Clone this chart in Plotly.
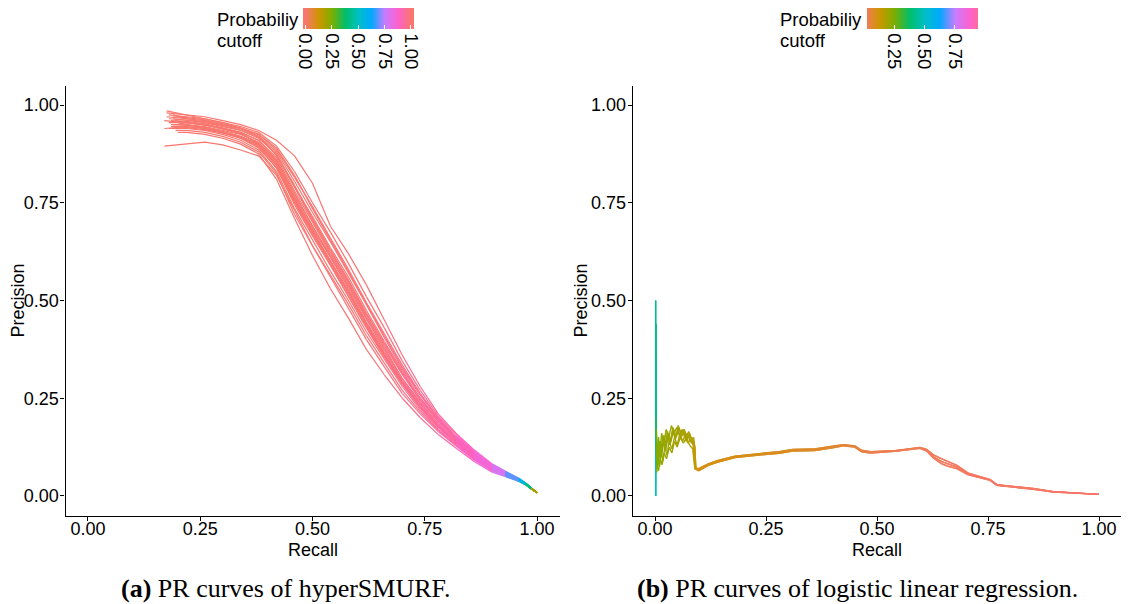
import plotly.graph_objects as go

# ------------------------------------------------------------------ data
# (a) hyperSMURF PR curves: shared recall grid, per-curve start point and precisions
smurf_recall_grid = [0.22, 0.26, 0.30, 0.34, 0.38, 0.42, 0.46, 0.50, 0.54, 0.58, 0.62, 0.66,
                     0.70, 0.74, 0.78, 0.82, 0.86, 0.90, 0.93, 0.96, 0.975, 0.988, 1.0]
smurf_cutoff = [1.0, 1.0, 1.0, 1.0, 1.0, 1.0, 0.999, 0.998, 0.996, 0.994, 0.991, 0.987,
                0.981, 0.97, 0.955, 0.935, 0.91, 0.88, 0.82, 0.75, 0.62, 0.49, 0.32, 0.06]
smurf_start_recall = [0.19, 0.18, 0.20, 0.17, 0.185, 0.175, 0.17, 0.19, 0.20, 0.18, 0.175,
                      0.195, 0.185, 0.19, 0.18, 0.175, 0.18, 0.20, 0.19, 0.185, 0.195, 0.17]
smurf_start_precision = [0.95, 0.975, 0.93, 0.96, 0.945, 0.98, 0.895, 0.965, 0.955, 0.94, 0.97,
                         0.935, 0.96, 0.975, 0.955, 0.985, 0.965, 0.945, 0.97, 0.95, 0.96, 0.94]
smurf_p01 = [0.95, 0.945, 0.935, 0.925, 0.905, 0.855, 0.765, 0.685, 0.61, 0.53, 0.445, 0.37, 0.295, 0.235, 0.18, 0.14, 0.10, 0.07, 0.055, 0.04, 0.03, 0.018, 0.008]
smurf_p02 = [0.97, 0.965, 0.955, 0.945, 0.93, 0.895, 0.83, 0.75, 0.675, 0.595, 0.51, 0.43, 0.345, 0.27, 0.205, 0.158, 0.115, 0.08, 0.062, 0.044, 0.032, 0.02, 0.009]
smurf_p03 = [0.93, 0.925, 0.915, 0.9, 0.875, 0.81, 0.71, 0.615, 0.53, 0.455, 0.375, 0.31, 0.25, 0.2, 0.157, 0.122, 0.088, 0.061, 0.049, 0.037, 0.028, 0.017, 0.008]
smurf_p04 = [0.955, 0.95, 0.94, 0.93, 0.91, 0.865, 0.78, 0.70, 0.62, 0.545, 0.46, 0.385, 0.31, 0.245, 0.19, 0.145, 0.105, 0.074, 0.057, 0.041, 0.031, 0.019, 0.008]
smurf_p05 = [0.945, 0.94, 0.93, 0.915, 0.89, 0.84, 0.745, 0.665, 0.59, 0.51, 0.43, 0.355, 0.285, 0.225, 0.175, 0.135, 0.097, 0.068, 0.053, 0.039, 0.03, 0.018, 0.008]
smurf_p06 = [0.975, 0.97, 0.96, 0.95, 0.935, 0.91, 0.87, 0.80, 0.69, 0.62, 0.54, 0.45, 0.36, 0.28, 0.21, 0.16, 0.118, 0.082, 0.063, 0.045, 0.033, 0.02, 0.009]
smurf_p07 = [0.9, 0.905, 0.898, 0.885, 0.87, 0.82, 0.73, 0.64, 0.565, 0.49, 0.41, 0.34, 0.27, 0.215, 0.168, 0.13, 0.093, 0.065, 0.051, 0.038, 0.029, 0.017, 0.008]
smurf_p08 = [0.96, 0.955, 0.945, 0.935, 0.915, 0.875, 0.79, 0.715, 0.635, 0.56, 0.475, 0.395, 0.32, 0.25, 0.195, 0.148, 0.108, 0.076, 0.058, 0.042, 0.031, 0.019, 0.008]
smurf_p09 = [0.95, 0.94, 0.93, 0.92, 0.9, 0.85, 0.755, 0.675, 0.60, 0.52, 0.44, 0.365, 0.29, 0.23, 0.178, 0.138, 0.099, 0.069, 0.054, 0.04, 0.03, 0.018, 0.008]
smurf_p10 = [0.94, 0.935, 0.925, 0.91, 0.885, 0.83, 0.735, 0.655, 0.575, 0.50, 0.42, 0.35, 0.28, 0.22, 0.17, 0.132, 0.095, 0.066, 0.052, 0.038, 0.029, 0.018, 0.008]
smurf_p11 = [0.965, 0.96, 0.95, 0.94, 0.92, 0.88, 0.805, 0.725, 0.65, 0.57, 0.49, 0.405, 0.325, 0.258, 0.198, 0.15, 0.11, 0.077, 0.059, 0.043, 0.032, 0.019, 0.009]
smurf_p12 = [0.935, 0.93, 0.92, 0.905, 0.88, 0.825, 0.72, 0.64, 0.56, 0.48, 0.40, 0.33, 0.262, 0.21, 0.165, 0.128, 0.092, 0.064, 0.051, 0.038, 0.029, 0.017, 0.008]
smurf_p13 = [0.958, 0.952, 0.942, 0.93, 0.91, 0.86, 0.775, 0.69, 0.615, 0.54, 0.455, 0.38, 0.30, 0.24, 0.185, 0.143, 0.103, 0.072, 0.056, 0.041, 0.031, 0.019, 0.008]
smurf_p14 = [0.965, 0.955, 0.948, 0.94, 0.925, 0.885, 0.815, 0.74, 0.66, 0.58, 0.495, 0.415, 0.335, 0.262, 0.2, 0.153, 0.112, 0.078, 0.06, 0.043, 0.032, 0.019, 0.009]
smurf_p15 = [0.955, 0.948, 0.94, 0.928, 0.9, 0.845, 0.76, 0.68, 0.60, 0.525, 0.44, 0.36, 0.29, 0.228, 0.176, 0.137, 0.098, 0.069, 0.054, 0.04, 0.03, 0.018, 0.008]
smurf_p16 = [0.975, 0.965, 0.955, 0.94, 0.92, 0.87, 0.79, 0.705, 0.625, 0.55, 0.465, 0.39, 0.315, 0.25, 0.192, 0.147, 0.107, 0.075, 0.058, 0.042, 0.031, 0.019, 0.008]
smurf_p17 = [0.962, 0.958, 0.948, 0.936, 0.918, 0.872, 0.795, 0.71, 0.63, 0.552, 0.468, 0.39, 0.312, 0.246, 0.19, 0.146, 0.106, 0.074, 0.057, 0.041, 0.031, 0.019, 0.008]
smurf_p18 = [0.942, 0.937, 0.928, 0.915, 0.893, 0.838, 0.75, 0.668, 0.59, 0.512, 0.432, 0.358, 0.287, 0.227, 0.176, 0.136, 0.097, 0.068, 0.053, 0.039, 0.03, 0.018, 0.008]
smurf_p19 = [0.968, 0.962, 0.952, 0.942, 0.925, 0.89, 0.82, 0.735, 0.655, 0.575, 0.49, 0.41, 0.33, 0.26, 0.2, 0.152, 0.111, 0.078, 0.06, 0.043, 0.032, 0.019, 0.009]
smurf_p20 = [0.948, 0.943, 0.933, 0.92, 0.898, 0.85, 0.76, 0.678, 0.602, 0.522, 0.44, 0.362, 0.292, 0.23, 0.178, 0.138, 0.099, 0.069, 0.054, 0.04, 0.03, 0.018, 0.008]
smurf_p21 = [0.955, 0.95, 0.938, 0.927, 0.902, 0.858, 0.77, 0.69, 0.612, 0.535, 0.452, 0.375, 0.3, 0.238, 0.183, 0.141, 0.101, 0.071, 0.055, 0.04, 0.03, 0.018, 0.008]
smurf_p22 = [0.945, 0.94, 0.93, 0.918, 0.895, 0.845, 0.752, 0.672, 0.595, 0.518, 0.436, 0.36, 0.288, 0.228, 0.177, 0.137, 0.098, 0.068, 0.053, 0.039, 0.03, 0.018, 0.008]
smurf_precisions = [smurf_p01, smurf_p02, smurf_p03, smurf_p04, smurf_p05, smurf_p06, smurf_p07, smurf_p08,
                    smurf_p09, smurf_p10, smurf_p11, smurf_p12, smurf_p13, smurf_p14, smurf_p15, smurf_p16,
                    smurf_p17, smurf_p18, smurf_p19, smurf_p20, smurf_p21, smurf_p22]

# (b) logistic regression PR curves: jagged heads (low recall) + shared tail recall grid
lr_head_recall_a = [0.0015, 0.0015, 0.002, 0.003, 0.004, 0.006, 0.009, 0.012, 0.016, 0.02, 0.025, 0.03, 0.036, 0.042, 0.048, 0.054, 0.06, 0.066, 0.072, 0.078, 0.084, 0.089, 0.091]
lr_head_prec_a = [0.0, 0.50, 0.20, 0.12, 0.09, 0.13, 0.10, 0.14, 0.12, 0.155, 0.13, 0.16, 0.14, 0.17, 0.15, 0.175, 0.155, 0.17, 0.15, 0.16, 0.14, 0.13, 0.075]
lr_head_cut_a = [0.56, 0.45, 0.40, 0.30, 0.26, 0.24, 0.23, 0.22, 0.22, 0.21, 0.21, 0.2, 0.2, 0.2, 0.19, 0.19, 0.19, 0.18, 0.18, 0.18, 0.17, 0.17, 0.12]
lr_head_recall_b = [0.002, 0.0022, 0.003, 0.004, 0.006, 0.008, 0.011, 0.015, 0.019, 0.024, 0.029, 0.034, 0.04, 0.046, 0.052, 0.058, 0.064, 0.07, 0.076, 0.082, 0.087, 0.09, 0.092]
lr_head_prec_b = [0.0, 0.44, 0.17, 0.07, 0.11, 0.08, 0.12, 0.10, 0.14, 0.115, 0.15, 0.13, 0.165, 0.145, 0.18, 0.16, 0.17, 0.15, 0.165, 0.145, 0.15, 0.12, 0.07]
lr_head_cut_b = [0.55, 0.44, 0.38, 0.28, 0.25, 0.24, 0.23, 0.22, 0.22, 0.21, 0.21, 0.2, 0.2, 0.2, 0.19, 0.19, 0.19, 0.18, 0.18, 0.18, 0.17, 0.16, 0.12]
lr_head_recall_c = [0.004, 0.007, 0.01, 0.014, 0.018, 0.022, 0.027, 0.032, 0.038, 0.044, 0.05, 0.056, 0.062, 0.068, 0.074, 0.08, 0.086, 0.09]
lr_head_prec_c = [0.06, 0.10, 0.075, 0.11, 0.09, 0.125, 0.105, 0.14, 0.12, 0.15, 0.13, 0.16, 0.14, 0.155, 0.135, 0.145, 0.13, 0.07]
lr_head_cut_c = [0.24, 0.23, 0.22, 0.22, 0.21, 0.21, 0.2, 0.2, 0.2, 0.19, 0.19, 0.19, 0.18, 0.18, 0.18, 0.17, 0.17, 0.12]
lr_head_recall_d = [0.003, 0.005, 0.008, 0.011, 0.015, 0.02, 0.025, 0.031, 0.037, 0.043, 0.049, 0.055, 0.061, 0.067, 0.073, 0.079, 0.085, 0.089, 0.091]
lr_head_prec_d = [0.17, 0.12, 0.15, 0.11, 0.16, 0.13, 0.17, 0.15, 0.18, 0.16, 0.175, 0.155, 0.17, 0.15, 0.16, 0.14, 0.145, 0.125, 0.072]
lr_head_cut_d = [0.26, 0.24, 0.23, 0.22, 0.22, 0.21, 0.21, 0.2, 0.2, 0.2, 0.19, 0.19, 0.19, 0.18, 0.18, 0.18, 0.17, 0.17, 0.12]
lr_head_recall_e = [0.005, 0.008, 0.012, 0.016, 0.021, 0.026, 0.032, 0.038, 0.044, 0.05, 0.057, 0.064, 0.071, 0.078, 0.085, 0.09]
lr_head_prec_e = [0.08, 0.065, 0.095, 0.08, 0.11, 0.095, 0.125, 0.11, 0.14, 0.125, 0.15, 0.135, 0.15, 0.13, 0.12, 0.068]
lr_head_cut_e = [0.23, 0.22, 0.22, 0.21, 0.21, 0.2, 0.2, 0.2, 0.19, 0.19, 0.19, 0.18, 0.18, 0.18, 0.17, 0.12]
lr_head_recall_f = [0.003, 0.006, 0.009, 0.013, 0.017, 0.022, 0.028, 0.034, 0.04, 0.046, 0.052, 0.058, 0.064, 0.07, 0.076, 0.082, 0.088, 0.092]
lr_head_prec_f = [0.13, 0.09, 0.14, 0.10, 0.15, 0.12, 0.165, 0.135, 0.175, 0.15, 0.17, 0.145, 0.165, 0.14, 0.155, 0.135, 0.14, 0.075]
lr_head_cut_f = [0.25, 0.23, 0.22, 0.22, 0.21, 0.21, 0.2, 0.2, 0.2, 0.19, 0.19, 0.19, 0.18, 0.18, 0.18, 0.17, 0.17, 0.12]

lr_tail_recall = [0.098, 0.12, 0.14, 0.18, 0.24, 0.28, 0.31, 0.36, 0.40, 0.424, 0.45, 0.465, 0.485, 0.54, 0.597,
                  0.612, 0.627, 0.646, 0.66, 0.68, 0.706, 0.73, 0.755, 0.77, 0.80, 0.852, 0.897, 0.95, 1.0]
lr_tail_cut = [0.1, 0.1, 0.1, 0.098, 0.095, 0.09, 0.085, 0.078, 0.07, 0.062, 0.055, 0.05, 0.04, 0.03, 0.025,
               0.022, 0.02, 0.018, 0.016, 0.015, 0.013, 0.012, 0.011, 0.01, 0.009, 0.008, 0.007, 0.006, 0.005]
lr_tail_prec_1 = [0.066, 0.08, 0.088, 0.10, 0.107, 0.111, 0.117, 0.118, 0.125, 0.130, 0.127, 0.115, 0.112, 0.115, 0.123,
                  0.117, 0.10, 0.088, 0.082, 0.074, 0.056, 0.048, 0.041, 0.028, 0.025, 0.018, 0.011, 0.008, 0.004]
lr_tail_prec_2 = [0.07, 0.082, 0.09, 0.102, 0.109, 0.113, 0.119, 0.12, 0.127, 0.131, 0.128, 0.117, 0.113, 0.116, 0.124,
                  0.119, 0.105, 0.095, 0.088, 0.078, 0.058, 0.05, 0.042, 0.029, 0.026, 0.019, 0.011, 0.008, 0.004]
lr_tail_prec_3 = [0.064, 0.078, 0.086, 0.098, 0.105, 0.109, 0.115, 0.116, 0.123, 0.128, 0.125, 0.113, 0.11, 0.114, 0.122,
                  0.115, 0.097, 0.082, 0.076, 0.07, 0.054, 0.047, 0.04, 0.027, 0.024, 0.017, 0.01, 0.007, 0.004]

tick_values = [0, 0.25, 0.5, 0.75, 1.0]
tick_labels = ["0.00", "0.25", "0.50", "0.75", "1.00"]
cb_left_ticks = [0, 0.25, 0.5, 0.75, 1.0]
cb_left_labels = ["0.00", "0.25", "0.50", "0.75", "1.00"]
cb_right_ticks = [0.25, 0.5, 0.75]
cb_right_labels = ["0.25", "0.50", "0.75"]

# ------------------------------------------------------------------ styling helpers
HUE_STOPS = [0, 0.125, 0.25, 0.375, 0.5, 0.625, 0.75, 0.875, 1.0]
HUE_COLOURS = ["#F8766D", "#CD9600", "#7CAE00", "#00BE67", "#00BFC4", "#00A9FF", "#C77CFF", "#FF61CC", "#F8766D"]
W, H = 1129, 604
SANS = "Liberation Sans, Arial, sans-serif"
SERIF = "Liberation Serif, Times New Roman, serif"


def px_x(p):
    return p / W


def px_y(p):
    return 1 - p / H


def hex_rgb(h):
    return tuple(int(h[i:i + 2], 16) for i in (1, 3, 5))


def colour_at(v):
    v = min(max(v, 0.0), 1.0)
    for i in range(len(HUE_STOPS) - 1):
        a, b = HUE_STOPS[i], HUE_STOPS[i + 1]
        if v <= b:
            t = (v - a) / (b - a)
            c1, c2 = hex_rgb(HUE_COLOURS[i]), hex_rgb(HUE_COLOURS[i + 1])
            return "rgb(%d,%d,%d)" % tuple(round(c1[k] + (c2[k] - c1[k]) * t) for k in range(3))
    return "rgb(248,118,109)"


def colourbar_scale(vmin, vmax, n=41):
    out = []
    for k in range(n):
        f = k / (n - 1)
        out.append([f, colour_at(vmin + (vmax - vmin) * f)])
    return out


def add_curves(fig, curves, xa, ya, width):
    groups = {}
    for rec, prec, cut in curves:
        cur_key, cur_x, cur_y = None, [], []
        for i in range(len(rec) - 1):
            key = round(((cut[i] + cut[i + 1]) / 2) * 200) / 200
            if key != cur_key:
                if cur_key is not None:
                    g = groups.setdefault(cur_key, ([], []))
                    g[0].extend(cur_x + [None]); g[1].extend(cur_y + [None])
                cur_key, cur_x, cur_y = key, [rec[i]], [prec[i]]
            cur_x.append(rec[i + 1]); cur_y.append(prec[i + 1])
        g = groups.setdefault(cur_key, ([], []))
        g[0].extend(cur_x + [None]); g[1].extend(cur_y + [None])
    for key in sorted(groups, reverse=True):
        xs, ys = groups[key]
        fig.add_trace(go.Scatter(x=xs, y=ys, mode="lines", xaxis=xa, yaxis=ya,
                                 line=dict(color=colour_at(key), width=width),
                                 showlegend=False, hoverinfo="skip", connectgaps=False))


fig = go.Figure()

left_curves = []
for k, pk in enumerate(smurf_precisions):
    left_curves.append(([smurf_start_recall[k]] + smurf_recall_grid,
                        [smurf_start_precision[k]] + pk,
                        smurf_cutoff))
add_curves(fig, left_curves, "x", "y", 1.2)

right_heads = [(lr_head_recall_a, lr_head_prec_a, lr_head_cut_a, lr_tail_prec_1),
               (lr_head_recall_b, lr_head_prec_b, lr_head_cut_b, lr_tail_prec_2),
               (lr_head_recall_c, lr_head_prec_c, lr_head_cut_c, lr_tail_prec_3),
               (lr_head_recall_d, lr_head_prec_d, lr_head_cut_d, lr_tail_prec_1),
               (lr_head_recall_e, lr_head_prec_e, lr_head_cut_e, lr_tail_prec_2),
               (lr_head_recall_f, lr_head_prec_f, lr_head_cut_f, lr_tail_prec_3)]
right_curves = []
for hr, hp, hc, tp in right_heads:
    right_curves.append((hr + lr_tail_recall, hp + tp, hc + lr_tail_cut))
add_curves(fig, right_curves, "x2", "y2", 1.4)

# colourbars
CB_L = (-0.026, 1.026)
CB_R = (0.024, 0.939)
for (vmin, vmax), xa, ya, x0, tv, tt in [(CB_L, "x", "y", 302.7, cb_left_ticks, cb_left_labels),
                                          (CB_R, "x2", "y2", 866.7, cb_right_ticks, cb_right_labels)]:
    fig.add_trace(go.Scatter(
        x=[None], y=[None], mode="markers", xaxis=xa, yaxis=ya, showlegend=False, hoverinfo="skip",
        marker=dict(color=[vmin], cmin=vmin, cmax=vmax, colorscale=colourbar_scale(vmin, vmax),
                    showscale=True, size=0,
                    colorbar=dict(orientation="h", x=px_x(x0), xanchor="left", y=px_y(8.3), yanchor="top",
                                  len=110.6, lenmode="pixels", thickness=21, thicknessmode="pixels",
                                  xpad=0, ypad=0, outlinewidth=0, borderwidth=0,
                                  tickmode="array", tickvals=tv, ticktext=tt, tickangle=90,
                                  ticks="inside", ticklen=4, tickcolor="white", tickwidth=1,
                                  tickfont=dict(family=SANS, size=18.5, color="black"))),
    ))

axis_common = dict(range=[-0.05, 1.05], showgrid=False, zeroline=False, showline=True,
                   linecolor="black", linewidth=1.2, ticks="outside", ticklen=4, tickwidth=1.2,
                   tickcolor="black", tickfont=dict(family=SANS, size=18, color="black"),
                   tickmode="array", tickvals=tick_values, ticktext=tick_labels, fixedrange=True)

ydom = [px_y(515.5), px_y(85.5)]
fig.update_layout(
    width=W, height=H, margin=dict(l=0, r=0, t=0, b=0),
    paper_bgcolor="white", plot_bgcolor="white",
    xaxis=dict(domain=[px_x(65.5), px_x(559.5)], anchor="y", ticklabelstandoff=-7, **axis_common),
    yaxis=dict(domain=ydom, anchor="x", ticklabelstandoff=-2, **axis_common),
    xaxis2=dict(domain=[px_x(632.8), px_x(1121.2)], anchor="y2", ticklabelstandoff=-7, **axis_common),
    yaxis2=dict(domain=ydom, anchor="x2", ticklabelstandoff=-2, **axis_common),
    showlegend=False,
)

ann = []
for cx in (312.5, 877.0):
    ann.append(dict(text="Recall", x=px_x(cx), y=px_y(549.5), xref="paper", yref="paper",
                    xanchor="center", yanchor="middle", showarrow=False,
                    font=dict(family=SANS, size=18, color="black")))
for cx in (17.0, 580.0):
    ann.append(dict(text="Precision", x=px_x(cx), y=px_y(300.5), xref="paper", yref="paper",
                    xanchor="center", yanchor="middle", textangle=-90, showarrow=False,
                    font=dict(family=SANS, size=18, color="black")))
for lx in (215.0, 778.0):
    ann.append(dict(text="Probabiliy", x=px_x(lx), y=px_y(19.5), xref="paper", yref="paper",
                    xanchor="left", yanchor="middle", showarrow=False,
                    font=dict(family=SANS, size=18.5, color="black")))
    ann.append(dict(text="cutoff", x=px_x(lx), y=px_y(40), xref="paper", yref="paper",
                    xanchor="left", yanchor="middle", showarrow=False,
                    font=dict(family=SANS, size=18.5, color="black")))
ann.append(dict(text="<b>(a)</b> PR curves of hyperSMURF.", x=px_x(285), y=px_y(588), xref="paper", yref="paper",
                xanchor="center", yanchor="middle", showarrow=False,
                font=dict(family=SERIF, size=26, color="black")))
ann.append(dict(text="<b>(b)</b> PR curves of logistic linear regression.", x=px_x(857), y=px_y(588),
                xref="paper", yref="paper", xanchor="center", yanchor="middle", showarrow=False,
                font=dict(family=SERIF, size=26, color="black")))
fig.update_layout(annotations=ann)

fig.write_html("out.html")
